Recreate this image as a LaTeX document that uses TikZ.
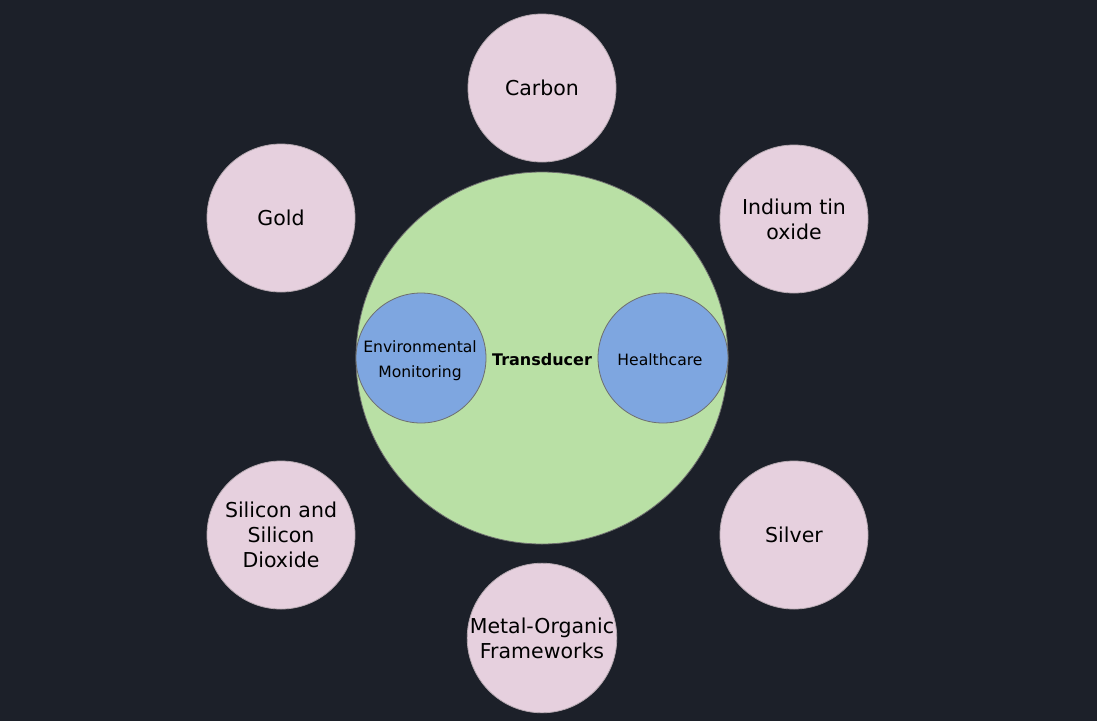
\documentclass[tikz,border=0pt]{standalone}
\usepackage{fontspec}
\setmainfont{DejaVu Sans}
\definecolor{bg}{HTML}{1C2029}
\definecolor{pinkf}{HTML}{E6D0DE}
\definecolor{greenf}{HTML}{B9E0A5}
\definecolor{bluef}{HTML}{7EA6E0}
\definecolor{edge}{HTML}{6E6E6E}
\begin{document}
\begin{tikzpicture}[x=1pt,y=-1pt,
  mat/.style={circle,fill=pinkf,draw=edge!40!pinkf,line width=0.8pt,minimum size=148pt,inner sep=0pt,align=center,font=\fontsize{20.5}{25}\selectfont,text=black},
  app/.style={circle,fill=bluef,draw=edge,line width=0.8pt,minimum size=130pt,inner sep=0pt,align=center,font=\fontsize{15.6}{25}\selectfont,text=black}]
\fill[bg] (0,0) rectangle (1097,721);
\useasboundingbox (0,0) rectangle (1097,721);
\node[circle,fill=greenf,draw=edge,line width=0.8pt,minimum size=372pt,inner sep=0pt] (trans) at (542,358) {};
\node[font=\bfseries\fontsize{16}{18}\selectfont,text=black] (tlabel) at (542,360) {Transducer};
\node[app] (env) at (421,358) {};
\node[align=center,font=\fontsize{15.6}{25}\selectfont,text=black] (envl) at (420,361) {Environmental\\Monitoring};
\node[app] (health) at (663,358) {};
\node[font=\fontsize{15.6}{25}\selectfont,text=black] (healthl) at (660,360) {Healthcare};
\node[mat] (carbon) at (542,88) {Carbon};
\node[mat] (gold) at (281,218) {Gold};
\node[mat] (ito) at (794,219) {Indium tin\\oxide};
\node[mat] (si) at (281,535) {Silicon and\\Silicon\\Dioxide};
\node[mat] (silver) at (794,535) {Silver};
\node[mat] (mof) at (542,638) {Metal-Organic\\Frameworks};
\end{tikzpicture}
\end{document}
